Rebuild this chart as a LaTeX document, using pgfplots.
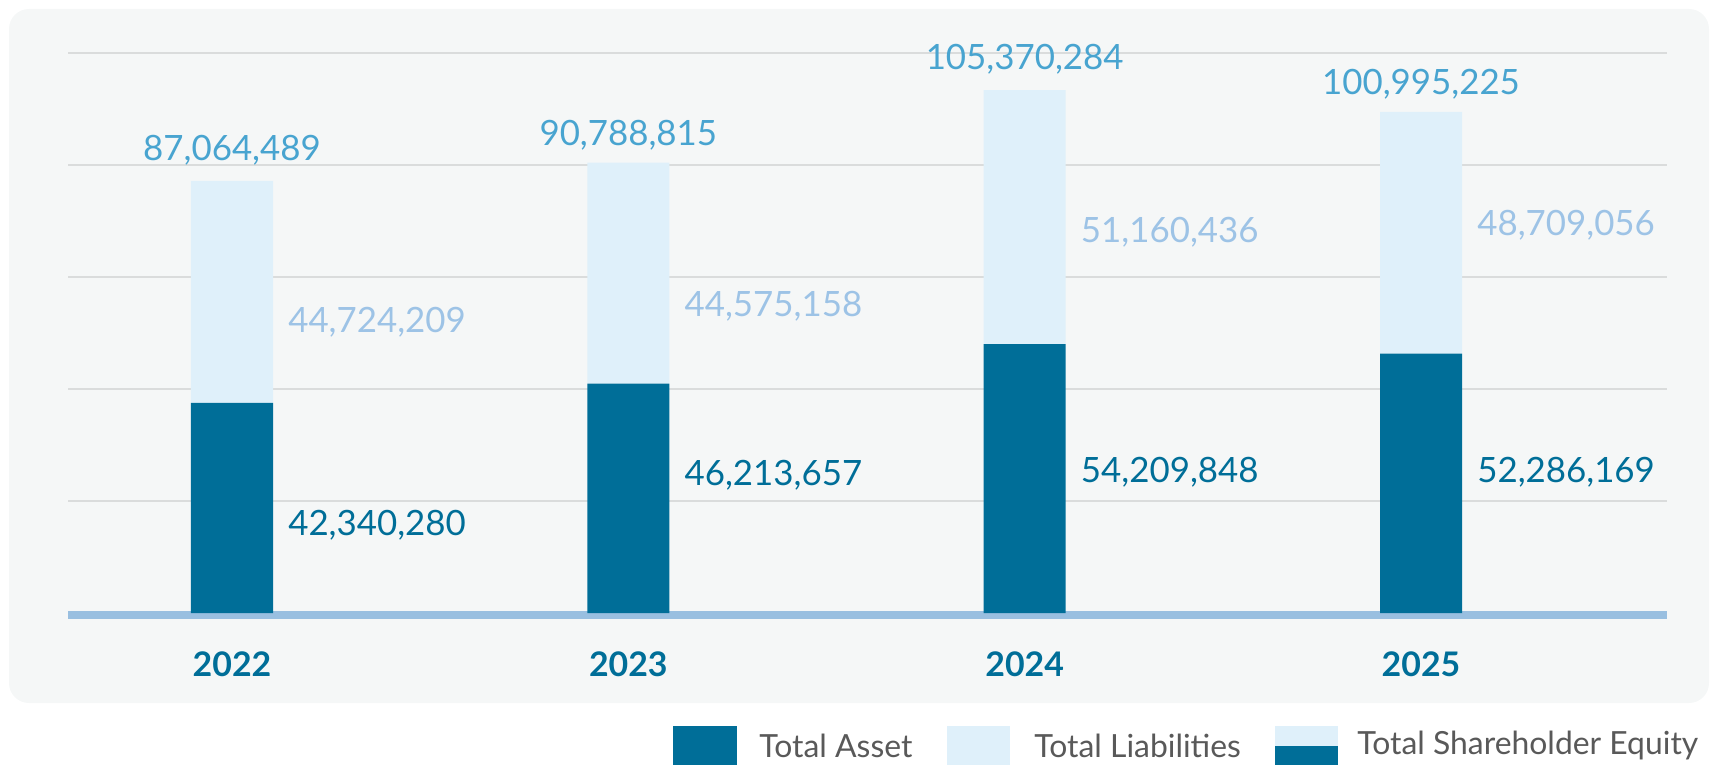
\documentclass[border=0pt]{standalone}
\usepackage{pgfplots}
\pgfplotsset{compat=1.18}
\usepackage{fontspec}
\setmainfont{Lato}
\definecolor{darkbar}{HTML}{006E98}
\definecolor{lightbar}{HTML}{DFF0FA}
\definecolor{totaltext}{HTML}{48A4D0}
\definecolor{liabtext}{HTML}{9DC3E6}
\definecolor{panel}{HTML}{F5F7F7}
\definecolor{gridgray}{HTML}{DADCDC}
\definecolor{baseblue}{HTML}{99BFE0}
\definecolor{legtext}{HTML}{595959}
\begin{document}
\begin{tikzpicture}[x=1bp,y=1bp]
\useasboundingbox (0,0) rectangle (860,386.5);
\fill[panel, rounded corners=10bp] (4.5,35) rectangle (854.5,382);
\begin{axis}[
  at={(34bp,80bp)}, anchor=south west,
  scale only axis, width=799.5bp, height=280bp,
  xmin=-0.4138, xmax=3.6207, ymin=0, ymax=112860000,
  ytick={0,22572000,45144000,67716000,90288000,112860000},
  scaled y ticks=false,
  yticklabels={}, ytick style={draw=none},
  ymajorgrids, grid style={color=gridgray, line width=0.6bp},
  axis line style={draw=none},
  xtick={0,1,2,3}, xticklabels={2022,2023,2024,2025}, xtick style={draw=none},
  xticklabel style={font=\bfseries\fontsize{17}{17}\selectfont, text=darkbar, anchor=center, yshift=-25.5bp, text depth=0pt, inner sep=0pt},
  ybar stacked, bar width=0.207,
  clip=false,
]
\addplot[fill=darkbar, draw=none] coordinates {(0,42340280) (1,46213657) (2,54209848) (3,52286169)};
\addplot[fill=lightbar, draw=none] coordinates {(0,44724209) (1,44575158) (2,51160436) (3,48709056)};
\draw[baseblue, line width=4bp] ([yshift=-1bp]rel axis cs:0,0) -- ([yshift=-1bp]rel axis cs:1,0);
\tikzset{val/.style={font=\fontsize{17.5}{18}\selectfont, inner sep=0pt, text depth=0pt}}
% totals
\node[val, text=totaltext, anchor=center] at (axis cs:0,93.7e6) {87,064,489};
\node[val, text=totaltext, anchor=center] at (axis cs:1,96.7e6) {90,788,815};
\node[val, text=totaltext, anchor=center] at (axis cs:2,112.1e6) {105,370,284};
\node[val, text=totaltext, anchor=center] at (axis cs:3,107.0e6) {100,995,225};
% liabilities
\node[val, text=liabtext, anchor=west] at (axis cs:0.141,59.0e6) {44,724,209};
\node[val, text=liabtext, anchor=west] at (axis cs:1.141,62.3e6) {44,575,158};
\node[val, text=liabtext, anchor=west] at (axis cs:2.141,77.2e6) {51,160,436};
\node[val, text=liabtext, anchor=west] at (axis cs:3.141,78.6e6) {48,709,056};
% equity
\node[val, text=darkbar, anchor=west] at (axis cs:0.141,18.1e6) {42,340,280};
\node[val, text=darkbar, anchor=west] at (axis cs:1.141,28.2e6) {46,213,657};
\node[val, text=darkbar, anchor=west] at (axis cs:2.141,28.8e6) {54,209,848};
\node[val, text=darkbar, anchor=west] at (axis cs:3.141,28.8e6) {52,286,169};
\end{axis}
% legend
\fill[darkbar] (336.5,4) rectangle (368.5,23.5);
\node[anchor=west, inner sep=0pt, text=legtext, font=\fontsize{16}{16}\selectfont] at (379.5,13.75) {Total Asset};
\fill[lightbar] (473.5,4) rectangle (505,23.5);
\node[anchor=west, inner sep=0pt, text=legtext, font=\fontsize{16}{16}\selectfont] at (517,13.75) {Total Liabilities};
\fill[lightbar] (637.5,13.75) rectangle (669,23.5);
\fill[darkbar] (637.5,4) rectangle (669,13.75);
\node[anchor=west, inner sep=0pt, text=legtext, font=\fontsize{16}{16}\selectfont] at (678.5,13.75) {Total Shareholder Equity};
\end{tikzpicture}
\end{document}
